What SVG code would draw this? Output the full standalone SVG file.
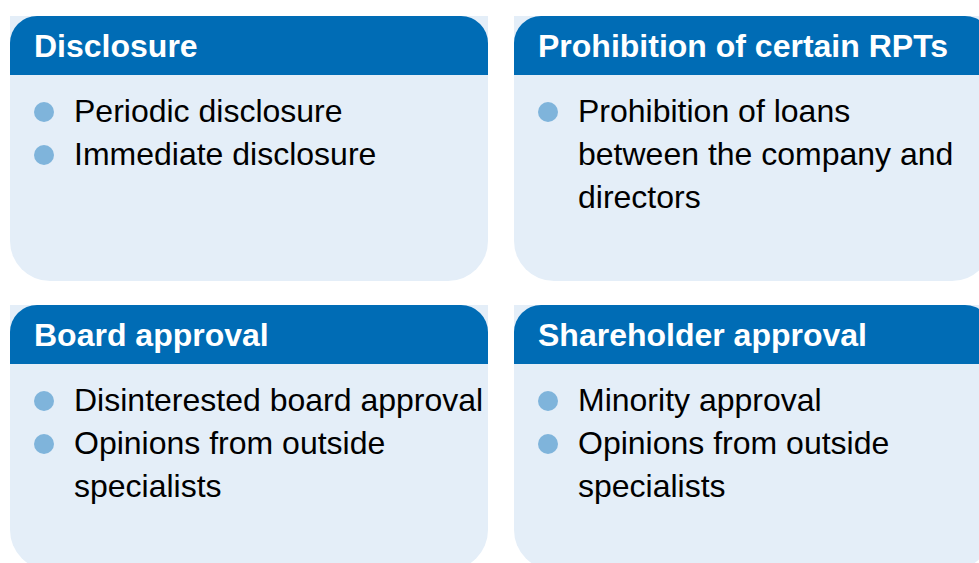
<svg xmlns="http://www.w3.org/2000/svg" width="979" height="563" viewBox="0 0 979 563">
<style>
.body{fill:#e4eef8}
.head{fill:#006cb5}
.ht{font-family:"Liberation Sans",Arial,sans-serif;font-weight:bold;font-size:32px;fill:#ffffff}
.bt{font-family:"Liberation Sans",Arial,sans-serif;font-size:32px;fill:#000000}
.dot{fill:#7fb4db}
</style>
<defs>
<path id="cardBody" d="M0 0H478V225A40 40 0 0 1 438 265H40A40 40 0 0 1 0 225Z"/>
<path id="cardHead" d="M27 0H451A27 27 0 0 1 478 27V59H0V27A27 27 0 0 1 27 0Z"/>
</defs>
<rect width="979" height="563" fill="#ffffff"/>
<g id="connectors"></g>
<g id="disclosure" transform="translate(10,16)">
<use href="#cardBody" class="body"/>
<use href="#cardHead" class="head"/>
<text class="ht" x="24" y="41">Disclosure</text>
<circle class="dot" cx="34" cy="96" r="10"/>
<text class="bt" x="64" y="106">Periodic disclosure</text>
<circle class="dot" cx="34" cy="139" r="10"/>
<text class="bt" x="64" y="149">Immediate disclosure</text>
</g>
<g id="prohibition" transform="translate(514,16)">
<use href="#cardBody" class="body"/>
<use href="#cardHead" class="head"/>
<text class="ht" x="24" y="41">Prohibition of certain RPTs</text>
<circle class="dot" cx="34" cy="96" r="10"/>
<text class="bt" x="64" y="106">Prohibition of loans</text>
<text class="bt" x="64" y="149">between the company and</text>
<text class="bt" x="64" y="192">directors</text>
</g>
<g id="board" transform="translate(10,305)">
<use href="#cardBody" class="body"/>
<use href="#cardHead" class="head"/>
<text class="ht" x="24" y="41">Board approval</text>
<circle class="dot" cx="34" cy="96" r="10"/>
<text class="bt" x="64" y="106">Disinterested board approval</text>
<circle class="dot" cx="34" cy="139" r="10"/>
<text class="bt" x="64" y="149">Opinions from outside</text>
<text class="bt" x="64" y="192">specialists</text>
</g>
<g id="shareholder" transform="translate(514,305)">
<use href="#cardBody" class="body"/>
<use href="#cardHead" class="head"/>
<text class="ht" x="24" y="41">Shareholder approval</text>
<circle class="dot" cx="34" cy="96" r="10"/>
<text class="bt" x="64" y="106">Minority approval</text>
<circle class="dot" cx="34" cy="139" r="10"/>
<text class="bt" x="64" y="149">Opinions from outside</text>
<text class="bt" x="64" y="192">specialists</text>
</g>
</svg>
